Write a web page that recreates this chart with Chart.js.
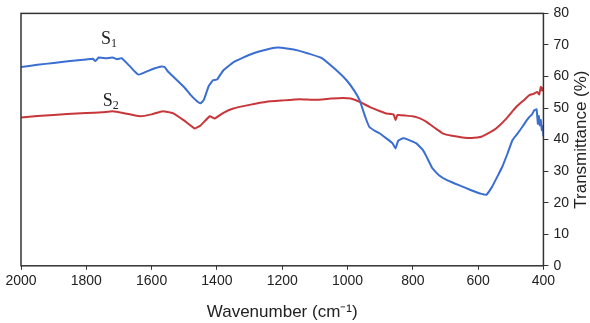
<!DOCTYPE html>
<html>
<head>
<meta charset="utf-8">
<script src="https://cdn.jsdelivr.net/npm/chart.js@4"></script>
<style>
  html, body { margin: 0; padding: 0; background: #fff; }
  #wrap { width: 590px; height: 323px; }
</style>
</head>
<body>
<div id="wrap"><canvas id="ftirChart"></canvas></div>
<script>
// S1 (blue)
const s1Wave = [2000, 1950, 1900, 1850, 1800, 1780, 1772, 1762, 1740, 1720, 1705, 1692, 1670, 1650, 1640, 1630, 1610, 1590, 1570, 1560, 1550, 1530, 1500, 1480, 1460, 1450, 1440, 1425, 1412, 1400, 1380, 1350, 1320, 1290, 1250, 1215, 1180, 1150, 1120, 1080, 1040, 1003, 980, 963, 945, 933, 915, 902, 880, 862, 853, 845, 830, 815, 789, 770, 758, 740, 720, 697, 670, 648, 625, 605, 590, 575, 557, 540, 526, 510, 495, 480, 465, 452, 443, 435, 428, 421, 417, 414, 411, 408, 405, 402, 400];
const s1Values = [63.0, 63.7, 64.3, 64.9, 65.4, 65.6, 64.9, 66.0, 65.8, 66.0, 65.5, 65.8, 63.6, 61.4, 60.6, 60.9, 61.8, 62.6, 63.2, 63.0, 61.6, 59.6, 56.6, 54.1, 52.1, 51.5, 52.6, 57.0, 58.8, 59.0, 62.0, 64.5, 66.0, 67.3, 68.5, 69.2, 68.8, 68.2, 67.3, 65.9, 62.5, 58.8, 55.6, 52.5, 47.0, 44.0, 42.7, 42.0, 40.3, 38.8, 37.2, 39.6, 40.4, 40.0, 38.8, 36.8, 34.6, 30.9, 28.7, 27.2, 26.0, 25.1, 24.1, 23.3, 22.8, 22.5, 25.1, 28.5, 31.4, 35.6, 39.8, 41.8, 44.0, 46.0, 47.2, 48.0, 49.3, 49.6, 45.0, 47.5, 44.5, 46.2, 43.0, 44.2, 41.0];

// S2 (red)
const s2Wave = [2000, 1950, 1900, 1859, 1800, 1750, 1719, 1680, 1636, 1600, 1566, 1535, 1500, 1468, 1450, 1422, 1407, 1380, 1352, 1300, 1248, 1200, 1147, 1100, 1050, 1015, 990, 963, 933, 900, 881, 859, 853, 847, 820, 801, 780, 758, 730, 709, 680, 648, 620, 590, 560, 545, 515, 483, 460, 443, 430, 419, 413, 408, 404, 400];
const s2Values = [47.0, 47.5, 47.8, 48.1, 48.4, 48.7, 49.0, 48.3, 47.4, 48.0, 49.0, 48.4, 46.0, 43.5, 44.5, 47.4, 46.7, 48.5, 49.8, 51.0, 52.0, 52.4, 52.8, 52.6, 53.0, 53.2, 53.0, 52.0, 50.4, 49.0, 48.3, 48.0, 46.2, 47.8, 47.6, 47.4, 46.8, 45.6, 43.5, 42.0, 41.2, 40.7, 40.5, 40.9, 42.5, 43.5, 46.5, 50.4, 52.5, 54.1, 54.5, 55.1, 54.3, 56.7, 55.5, 56.6];

const xTicks = [2000, 1800, 1600, 1400, 1200, 1000, 800, 600, 400];
const yTicks = [0, 10, 20, 30, 40, 50, 60, 70, 80];

const toPoints = (xs, ys) => xs.map((x, i) => ({ x: x, y: ys[i] }));

// frame, series labels and the right-hand title (reads bottom to top)
const decorPlugin = {
    id: 'decor',
    afterDraw(chart) {
        const { ctx, chartArea: a, scales } = chart;
        ctx.save();
        ctx.strokeStyle = '#333';
        ctx.lineWidth = 1.5;
        ctx.strokeRect(a.left, a.top, a.right - a.left, a.bottom - a.top);

        ctx.fillStyle = '#222';
        ctx.textBaseline = 'alphabetic';
        const lbl = (text, sub, wx, vy) => {
            const px = scales.x.getPixelForValue(wx);
            const py = scales.y.getPixelForValue(vy);
            ctx.font = '18px "Liberation Serif", "Times New Roman", serif';
            ctx.fillText(text, px, py);
            const w = ctx.measureText(text).width;
            ctx.font = '12px "Liberation Serif", "Times New Roman", serif';
            ctx.fillText(sub, px + w, py + 3);
        };
        lbl('S', '1', 1755, 70.4);
        lbl('S', '2', 1750, 50.6);

        ctx.font = '17px "Liberation Sans", Arial, sans-serif';
        ctx.textAlign = 'center';
        ctx.textBaseline = 'middle';
        ctx.translate(581, (a.top + a.bottom) / 2);
        ctx.rotate(-Math.PI / 2);
        ctx.fillText('Transmittance (%)', 0, 0);
        ctx.restore();
    }
};

const tickFont = { family: '"Liberation Sans", Arial, sans-serif', size: 14 };

const ctx = document.getElementById('ftirChart').getContext('2d');
new Chart(ctx, {
    type: 'line',
    data: {
        datasets: [{
            label: 'S1',
            data: toPoints(s1Wave, s1Values),
            borderColor: '#3a6ed2',
            borderWidth: 2,
            pointRadius: 0,
            tension: 0.1,
            fill: false
        }, {
            label: 'S2',
            data: toPoints(s2Wave, s2Values),
            borderColor: '#c8363a',
            borderWidth: 2,
            pointRadius: 0,
            tension: 0.1,
            fill: false
        }]
    },
    options: {
        responsive: true,
        maintainAspectRatio: false,
        animation: false,
        layout: { padding: { left: 21, right: 16, top: 8, bottom: 0 } },
        scales: {
            x: {
                type: 'linear',
                reverse: true,
                min: 400,
                max: 2000,
                afterBuildTicks: s => { s.ticks = xTicks.map(v => ({ value: v })); },
                border: { display: false },
                grid: { drawOnChartArea: false, drawTicks: true, tickLength: 4, color: '#333' },
                ticks: { color: '#222', padding: 3, maxRotation: 0, font: tickFont, callback: v => String(v) },
                title: {
                    display: true,
                    text: 'Wavenumber (cm⁻¹)',
                    color: '#222',
                    padding: { top: 10, bottom: 0 },
                    font: { family: '"Liberation Sans", Arial, sans-serif', size: 17 }
                }
            },
            y: {
                position: 'right',
                min: 0,
                max: 80,
                afterBuildTicks: s => { s.ticks = yTicks.map(v => ({ value: v })); },
                border: { display: false },
                grid: { drawOnChartArea: false, drawTicks: true, tickLength: 5, color: '#333' },
                ticks: { color: '#222', padding: 5, font: tickFont, callback: v => String(v) }
            }
        },
        plugins: {
            legend: { display: false },
            tooltip: { enabled: false }
        }
    },
    plugins: [decorPlugin]
});
</script>
</body>
</html>
